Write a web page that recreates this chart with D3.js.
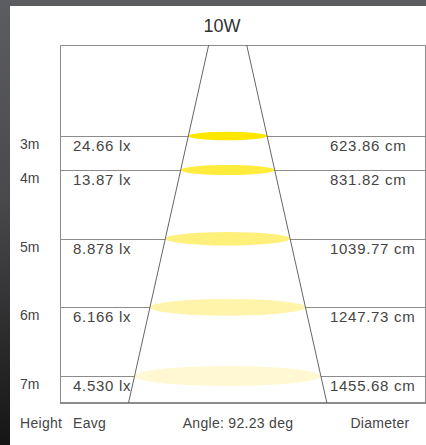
<!DOCTYPE html>
<html>
<head>
<meta charset="utf-8">
<script src="https://cdn.jsdelivr.net/npm/d3@7"></script>
<style>
  body { margin: 0; background: #222; }
  svg { display: block; }
  text { font-family: "Liberation Sans", Arial, sans-serif; fill: #444; }
</style>
</head>
<body>
<script>
// values
var title = "10W";
var distances = [3, 4, 5, 6, 7];
var eavg = [24.66, 13.87, 8.878, 6.166, 4.530];
var diameters = [623.86, 831.82, 1039.77, 1247.73, 1455.68];
var angle = 92.23;
var footLabels = ["Height", "Eavg", "Angle: " + angle + " deg", "Diameter"];

var width = 426;
var height = 445;

var box = { left: 60, right: 425, top: 45, bottom: 403 };

var svg = d3.select('body')
    .append('svg')
    .attr('width', width)
    .attr('height', height)

// dark frame behind the white card
var defs = svg.append('defs')
var grad = defs.append('linearGradient')
    .attr('id', 'frame')
    .attr('x1', 0).attr('y1', 0).attr('x2', 0).attr('y2', 1)
grad.append('stop').attr('offset', '0%').attr('stop-color', '#5c5d62')
grad.append('stop').attr('offset', '45%').attr('stop-color', '#49494c')
grad.append('stop').attr('offset', '100%').attr('stop-color', '#151515')

svg.append('rect')
    .attr('width', width)
    .attr('height', height)
    .attr('fill', 'url(#frame)')

svg.append('rect')
    .attr('x', 10)
    .attr('y', 6)
    .attr('width', width - 10)
    .attr('height', height - 6)
    .attr('fill', '#fff')

// distance -> y (rows are not evenly spaced for the first one)
var y = d3.scaleLinear()
    .domain([0, 3, 4, 7])
    .range([box.top, 136, 170, 376]);

// cone: half width grows with y
var cx = 227.7;
var halfW = d3.scaleLinear()
    .domain([box.top, box.bottom])
    .range([19, 99.2]);

var color = d3.scaleLinear()
    .domain([3, 4, 5, 6, 7])
    .range(['#ffe700', '#ffec3c', '#fff07c', '#fff4aa', '#fff8d3']);

var fmtLx = d3.format('.4r');
var fmtCm = d3.format('.2f');

svg.append('text')
    .attr('x', 222)
    .attr('y', 32)
    .attr('text-anchor', 'middle')
    .style('font-size', '18px')
    .style('fill', '#333')
    .text(title)

// box
svg.append('path')
    .attr('d', 'M' + (box.left + 0.5) + ',' + box.bottom + 'V' + (box.top + 0.5) +
        'H' + (box.right + 0.5) + 'V' + box.bottom)
    .attr('fill', 'none')
    .attr('stroke', '#8c8c8c')

svg.append('line')
    .attr('x1', box.left).attr('x2', box.right + 1)
    .attr('y1', box.bottom).attr('y2', box.bottom)
    .attr('stroke', '#8c8c8c')
    .attr('stroke-width', 2)

// row lines, only outside the cone
var rows = svg.append('g')
    .selectAll('g')
    .data(distances)
    .join('g')

rows.append('line')
    .attr('x1', box.left)
    .attr('x2', d => cx - halfW(y(d)))
    .attr('y1', d => Math.round(y(d)) + 0.5)
    .attr('y2', d => Math.round(y(d)) + 0.5)
    .attr('stroke', '#8c8c8c')

rows.append('line')
    .attr('x1', d => cx + halfW(y(d)))
    .attr('x2', box.right)
    .attr('y1', d => Math.round(y(d)) + 0.5)
    .attr('y2', d => Math.round(y(d)) + 0.5)
    .attr('stroke', '#8c8c8c')

rows.append('ellipse')
    .attr('cx', cx)
    .attr('cy', d => y(d))
    .attr('rx', d => halfW(y(d)))
    .attr('ry', d => halfW(y(d)) * 0.108)
    .attr('fill', d => color(d))

// cone edges
svg.append('line')
    .attr('x1', cx - halfW(box.top)).attr('y1', box.top)
    .attr('x2', cx - halfW(box.bottom)).attr('y2', box.bottom)
    .attr('stroke', '#666')
svg.append('line')
    .attr('x1', cx + halfW(box.top)).attr('y1', box.top)
    .attr('x2', cx + halfW(box.bottom)).attr('y2', box.bottom)
    .attr('stroke', '#666')

rows.append('text')
    .attr('x', 20)
    .attr('y', d => y(d) + 13)
    .style('font-size', '14px')
    .text(d => d + 'm')

rows.append('text')
    .attr('x', 73)
    .attr('y', d => y(d) + 15)
    .style('font-size', '15px')
    .style('letter-spacing', '0.7px')
    .text((d, i) => fmtLx(eavg[i]) + ' lx')

rows.append('text')
    .attr('x', 330)
    .attr('y', d => y(d) + 15)
    .style('font-size', '15px')
    .style('letter-spacing', '0.7px')
    .text((d, i) => fmtCm(diameters[i]) + ' cm')

// footer labels
var footX = [20, 73, 238, 380];
var footAnchor = ['start', 'start', 'middle', 'middle'];
svg.append('g')
    .selectAll('text')
    .data(footLabels)
    .join('text')
    .attr('x', (d, i) => footX[i])
    .attr('y', 428)
    .attr('text-anchor', (d, i) => footAnchor[i])
    .style('font-size', '14px')
    .style('letter-spacing', '0.3px')
    .text(d => d)
</script>
</body>
</html>
